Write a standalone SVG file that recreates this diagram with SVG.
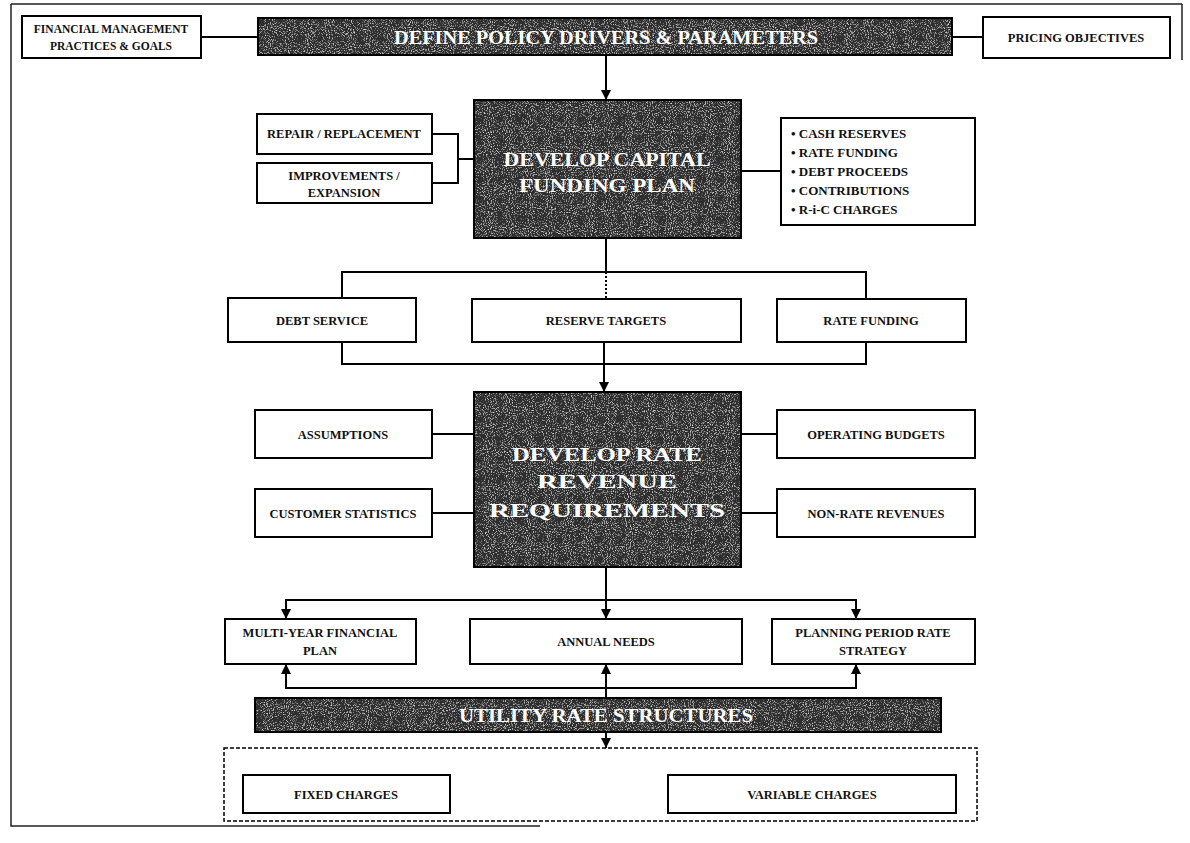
<svg xmlns="http://www.w3.org/2000/svg" width="1190" height="843" viewBox="0 0 1190 843">
<style>
.box{fill:#fff;stroke:#000;stroke-width:2}
.barf{fill:#2e2e2e}
.bars{fill:none;stroke:#000;stroke-width:2}
.lbl{font-family:"Liberation Serif","DejaVu Serif",serif;font-size:12.5px;font-weight:bold;fill:#111;text-anchor:middle}
.sm{font-size:11.5px}
.lst{font-family:"Liberation Serif","DejaVu Serif",serif;font-size:13px;font-weight:bold;fill:#111}
.ttl{font-family:"Liberation Serif","DejaVu Serif",serif;font-size:19px;font-weight:bold;fill:#fff;text-anchor:middle}
.ln{fill:none;stroke:#000;stroke-width:2}
.frame{fill:none;stroke:#222;stroke-width:1.5}
</style>
<defs>
<marker id="ah" viewBox="0 0 10 10" refX="10" refY="5" markerWidth="5" markerHeight="5" orient="auto" markerUnits="strokeWidth">
<path d="M0,0 L10,5 L0,10 z" fill="#000"/>
</marker>
<filter id="grain" x="0" y="0" width="100%" height="100%">
<feTurbulence type="fractalNoise" baseFrequency="0.95" numOctaves="2" seed="4" result="n"/>
<feColorMatrix in="n" type="matrix" values="0 0 0 0 0.75  0 0 0 0 0.75  0 0 0 0 0.75  3 0 0 0 -1.6" result="w"/>
<feComposite in="w" in2="SourceGraphic" operator="in" result="s"/>
<feMerge><feMergeNode in="SourceGraphic"/><feMergeNode in="s"/></feMerge>
</filter>
</defs>
<rect width="1190" height="843" fill="#fff"/>
<path class="frame" d="M11,4 L1182,4 M11,4 L11,826 L540,826 M1182,4 L1182,60"/>

<g id="connectors">
<path class="ln" d="M201,37 H258 M952,37 H983"/>
<path class="ln" d="M606,55 V100" marker-end="url(#ah)"/>
<path class="ln" d="M432,134 H458 V183 H432 M458,159 H474"/>
<path class="ln" d="M741,171 H781"/>
<path class="ln" d="M606,238 V272 M342,298 V272 H866 V298"/>
<path class="ln" d="M606,272 V299" stroke-dasharray="2,2" stroke-width="1"/>
<path class="ln" d="M342,342 V364 H866 V342"/>
<path class="ln" d="M604,342 V392" marker-end="url(#ah)"/>
<path class="ln" d="M432,434 H474 M432,513 H474 M741,434 H777 M741,513 H777"/>
<path class="ln" d="M606,567 V619" marker-end="url(#ah)"/>
<path class="ln" d="M286,619 V600 H856 V619"/>
<path class="ln" d="M286,606 V619" marker-end="url(#ah)"/>
<path class="ln" d="M856,606 V619" marker-end="url(#ah)"/>
<path class="ln" d="M606,698 V664" marker-end="url(#ah)"/>
<path class="ln" d="M286,664 V688 H856 V664"/>
<path class="ln" d="M286,676 V664" marker-end="url(#ah)"/>
<path class="ln" d="M856,676 V664" marker-end="url(#ah)"/>
<path class="ln" d="M606,732 V748" marker-end="url(#ah)"/>
</g>

<g id="financial-mgmt">
<rect class="box" x="22" y="16" width="179" height="42"/>
<text class="lbl sm" x="111" y="33">FINANCIAL MANAGEMENT</text>
<text class="lbl sm" x="111" y="50">PRACTICES &amp; GOALS</text>
</g>
<g id="define-policy">
<rect class="barf" x="258" y="18" width="694" height="37" filter="url(#grain)"/>
<rect class="bars" x="258" y="18" width="694" height="37"/>
<text class="ttl" x="606" y="44" textLength="424" lengthAdjust="spacingAndGlyphs">DEFINE POLICY DRIVERS &amp; PARAMETERS</text>
</g>
<g id="pricing-objectives">
<rect class="box" x="983" y="17" width="187" height="41"/>
<text class="lbl" x="1076" y="42">PRICING OBJECTIVES</text>
</g>

<g id="repair">
<rect class="box" x="257" y="114" width="175" height="40"/>
<text class="lbl" x="344" y="138">REPAIR / REPLACEMENT</text>
</g>
<g id="improvements">
<rect class="box" x="257" y="163" width="175" height="40"/>
<text class="lbl" x="344" y="180">IMPROVEMENTS /</text>
<text class="lbl" x="344" y="197">EXPANSION</text>
</g>
<g id="capital-plan">
<rect class="barf" x="474" y="100" width="267" height="138" filter="url(#grain)"/>
<rect class="bars" x="474" y="100" width="267" height="138"/>
<text class="ttl" x="607" y="166" textLength="207" lengthAdjust="spacingAndGlyphs">DEVELOP CAPITAL</text>
<text class="ttl" x="607" y="192" textLength="176" lengthAdjust="spacingAndGlyphs">FUNDING PLAN</text>
</g>
<g id="funding-sources">
<rect class="box" x="781" y="118" width="194" height="107"/>
<text class="lst" x="791" y="138">• CASH RESERVES</text>
<text class="lst" x="791" y="157">• RATE FUNDING</text>
<text class="lst" x="791" y="176">• DEBT PROCEEDS</text>
<text class="lst" x="791" y="195">• CONTRIBUTIONS</text>
<text class="lst" x="791" y="214">• R-i-C CHARGES</text>
</g>

<g id="debt-service">
<rect class="box" x="228" y="298" width="188" height="44"/>
<text class="lbl" x="322" y="325">DEBT SERVICE</text>
</g>
<g id="reserve-targets">
<rect class="box" x="472" y="299" width="269" height="43"/>
<text class="lbl" x="606" y="325">RESERVE TARGETS</text>
</g>
<g id="rate-funding">
<rect class="box" x="777" y="299" width="189" height="43"/>
<text class="lbl" x="871" y="325">RATE FUNDING</text>
</g>

<g id="assumptions">
<rect class="box" x="255" y="410" width="177" height="48"/>
<text class="lbl" x="343" y="439">ASSUMPTIONS</text>
</g>
<g id="customer-statistics">
<rect class="box" x="255" y="489" width="177" height="48"/>
<text class="lbl" x="343" y="518">CUSTOMER STATISTICS</text>
</g>
<g id="rate-revenue">
<rect class="barf" x="474" y="392" width="267" height="175" filter="url(#grain)"/>
<rect class="bars" x="474" y="392" width="267" height="175"/>
<text class="ttl" x="607" y="461" textLength="190" lengthAdjust="spacingAndGlyphs">DEVELOP RATE</text>
<text class="ttl" x="607" y="488" textLength="140" lengthAdjust="spacingAndGlyphs">REVENUE</text>
<text class="ttl" x="607" y="517" textLength="236" lengthAdjust="spacingAndGlyphs">REQUIREMENTS</text>
</g>
<g id="operating-budgets">
<rect class="box" x="777" y="410" width="198" height="48"/>
<text class="lbl" x="876" y="439">OPERATING BUDGETS</text>
</g>
<g id="non-rate-revenues">
<rect class="box" x="777" y="489" width="198" height="48"/>
<text class="lbl" x="876" y="518">NON-RATE REVENUES</text>
</g>

<g id="multi-year">
<rect class="box" x="225" y="619" width="191" height="45"/>
<text class="lbl" x="320" y="637">MULTI-YEAR FINANCIAL</text>
<text class="lbl" x="320" y="655">PLAN</text>
</g>
<g id="annual-needs">
<rect class="box" x="470" y="619" width="272" height="45"/>
<text class="lbl" x="606" y="646">ANNUAL NEEDS</text>
</g>
<g id="planning-period">
<rect class="box" x="772" y="619" width="203" height="45"/>
<text class="lbl" x="873" y="637">PLANNING PERIOD RATE</text>
<text class="lbl" x="873" y="655">STRATEGY</text>
</g>

<g id="utility-rate">
<rect class="barf" x="255" y="698" width="686" height="34" filter="url(#grain)"/>
<rect class="bars" x="255" y="698" width="686" height="34"/>
<text class="ttl" x="606" y="722" textLength="294" lengthAdjust="spacingAndGlyphs">UTILITY RATE STRUCTURES</text>
</g>

<g id="charges">
<rect x="224" y="748" width="753" height="73" fill="none" stroke="#000" stroke-width="1.5" stroke-dasharray="4,2"/>
</g>
<g id="fixed-charges">
<rect class="box" x="243" y="775" width="207" height="38"/>
<text class="lbl" x="346" y="799">FIXED CHARGES</text>
</g>
<g id="variable-charges">
<rect class="box" x="668" y="775" width="288" height="38"/>
<text class="lbl" x="812" y="799">VARIABLE CHARGES</text>
</g>
</svg>
